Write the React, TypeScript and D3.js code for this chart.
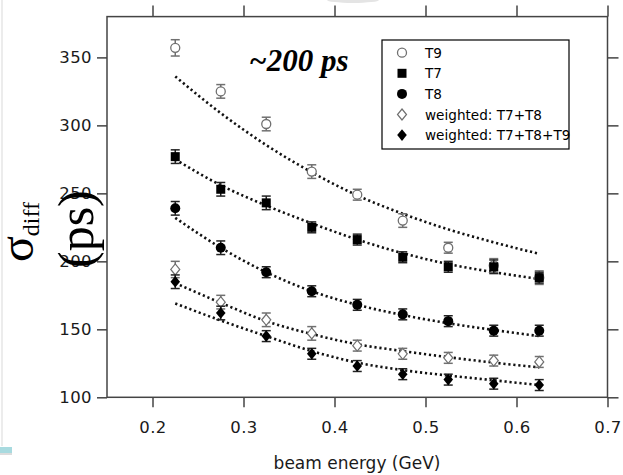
import { useEffect, useRef } from 'react';
import * as d3 from 'd3';

// beam energy bins (GeV)
const energies = [0.225, 0.275, 0.325, 0.375, 0.425, 0.475, 0.525, 0.575, 0.625];

// sigma_diff per telescope / combination (ps)
const t9 = [357, 325, 301, 266, 249, 230, 210, 197, 188];
const t9Err = [6, 5, 5, 5, 4, 5, 4, 5, 5];
const t7 = [277, 253, 243, 225, 216, 203, 196, 196, 188];
const t7Err = [5, 5, 5, 4, 4, 4, 4, 5, 4];
const t8 = [239, 210, 192, 178, 168, 161, 156, 149, 149];
const t8Err = [5, 5, 4, 4, 4, 4, 4, 4, 4];
const w78 = [194, 170, 157, 147, 138, 132, 129, 127, 126];
const w78Err = [6, 5, 5, 5, 4, 4, 4, 4, 4];
const w789 = [185, 162, 145, 132, 123, 117, 113, 110, 109];
const w789Err = [5, 5, 4, 4, 4, 4, 4, 4, 4];

// dotted fit curves, sampled at the same energies
const fitT9 = [336, 309, 285.5, 265.5, 248.5, 235, 223.5, 214, 205.5];
const fitT7 = [275, 256, 241, 228, 216, 206, 198, 192, 187];
const fitT8 = [232, 210, 192, 178, 168, 160.5, 154.5, 149.5, 145];
const fitW78 = [184, 169.5, 156, 146.5, 139, 134, 129.5, 125.5, 122];
const fitW789 = [169, 156.5, 145, 134, 125.5, 120, 116, 112.5, 109];

const xTicks = [0.2, 0.3, 0.4, 0.5, 0.6, 0.7];
const yTicks = [100, 150, 200, 250, 300, 350];

const legendLabels = ['T9', 'T7', 'T8', 'weighted: T7+T8', 'weighted: T7+T8+T9'];

const GRAY = '#707070';
const FONT = '"DejaVu Sans", Verdana, sans-serif';
const SERIF = '"Liberation Serif", "Times New Roman", serif';

export default function App() {
  const svgRef = useRef<SVGSVGElement>(null);

  useEffect(() => {
    const svg = d3.select(svgRef.current);
    svg.selectAll('*').remove();

    const left = 107, right = 607.5, top = 16.6, bottom = 397.3;
    const x = d3.scaleLinear().domain([0.15, 0.7]).range([left, right]);
    const y = d3.scaleLinear().domain([100, 380]).range([bottom, top]);

    // page decorations
    svg.append('line').attr('x1', 2).attr('x2', 2).attr('y1', 0).attr('y2', 446)
      .attr('stroke', '#ececec').attr('stroke-width', 2);
    svg.append('rect').attr('x', 0).attr('y', 452).attr('width', 12).attr('height', 3).attr('fill', '#dcdcdc');
    svg.append('rect').attr('x', 0).attr('y', 447).attr('width', 12).attr('height', 6).attr('fill', '#a8dadf');
    svg.append('ellipse').attr('cx', 353).attr('cy', 0).attr('rx', 26).attr('ry', 3).attr('fill', '#e4e4e4');

    // axes
    const axisColor = '#444';
    const styleAxis = (g: any) => {
      g.select('.domain').remove();
      g.selectAll('.tick line').attr('stroke', axisColor).attr('stroke-width', 1.5);
      g.selectAll('.tick text').attr('fill', '#1a1a1a').style('font-family', FONT)
        .style('font-size', '16.5px').style('letter-spacing', '0.4px');
    };
    svg.append('g').attr('transform', `translate(0,${bottom})`)
      .call(d3.axisBottom(x).tickValues(xTicks).tickSize(10).tickPadding(14).tickFormat(d3.format('.1f')))
      .call(styleAxis);
    svg.append('g').attr('transform', `translate(0,${top})`)
      .call(d3.axisTop(x).tickValues(xTicks).tickSize(11).tickFormat(() => ''))
      .call(styleAxis);
    svg.append('g').attr('transform', `translate(${left},0)`)
      .call(d3.axisLeft(y).tickValues(yTicks).tickSize(10).tickPadding(5))
      .call(styleAxis);
    svg.append('g').attr('transform', `translate(${right},0)`)
      .call(d3.axisRight(y).tickValues(yTicks).tickSize(11).tickFormat(() => ''))
      .call(styleAxis);
    svg.append('rect').attr('x', left).attr('y', top).attr('width', right - left).attr('height', bottom - top)
      .attr('fill', 'none').attr('stroke', axisColor).attr('stroke-width', 1.5);

    // dotted fits
    const line = d3.line<number>().x((_, i) => x(energies[i])).y(d => y(d)).curve(d3.curveMonotoneX);
    [fitT9, fitT7, fitT8, fitW78, fitW789].forEach(f => {
      svg.append('path').attr('d', line(f)).attr('fill', 'none').attr('stroke', '#111')
        .attr('stroke-width', 2.6).attr('stroke-dasharray', '2.2,2.8');
    });

    const diamond = (hw: number, hh: number) => `M0,${-hh}L${hw},0L0,${hh}L${-hw},0Z`;
    const drawMarker = (g: any, kind: string) => {
      if (kind === 'openCircle') g.append('circle').attr('r', 4.5).attr('fill', 'white').attr('stroke', GRAY).attr('stroke-width', 1.3);
      if (kind === 'square') g.append('rect').attr('x', -4.5).attr('y', -4.5).attr('width', 9).attr('height', 9).attr('fill', '#000');
      if (kind === 'circle') g.append('circle').attr('r', 5).attr('fill', '#000');
      if (kind === 'openDiamond') g.append('path').attr('d', diamond(4.5, 5.5)).attr('fill', 'white').attr('stroke', GRAY).attr('stroke-width', 1.2);
      if (kind === 'diamond') g.append('path').attr('d', diamond(4.8, 5.8)).attr('fill', '#000');
    };

    const series = [
      { vals: t9, err: t9Err, kind: 'openCircle', color: GRAY },
      { vals: t7, err: t7Err, kind: 'square', color: '#222' },
      { vals: t8, err: t8Err, kind: 'circle', color: '#222' },
      { vals: w78, err: w78Err, kind: 'openDiamond', color: GRAY },
      { vals: w789, err: w789Err, kind: 'diamond', color: '#222' },
    ];

    series.forEach(s => {
      const g = svg.append('g');
      s.vals.forEach((v, i) => {
        const px = x(energies[i]);
        const y0 = y(v - s.err[i]), y1 = y(v + s.err[i]);
        const eb = g.append('g').attr('stroke', s.color).attr('stroke-width', 1.5);
        eb.append('line').attr('x1', px).attr('x2', px).attr('y1', y0).attr('y2', y1);
        eb.append('line').attr('x1', px - 4.5).attr('x2', px + 4.5).attr('y1', y0).attr('y2', y0);
        eb.append('line').attr('x1', px - 4.5).attr('x2', px + 4.5).attr('y1', y1).attr('y2', y1);
        drawMarker(g.append('g').attr('transform', `translate(${px},${y(v)})`), s.kind);
      });
    });

    // legend
    const lg = svg.append('g');
    lg.append('rect').attr('x', 382).attr('y', 40).attr('width', 187).attr('height', 109)
      .attr('fill', 'white').attr('stroke', '#000').attr('stroke-width', 1.2);
    legendLabels.forEach((label, i) => {
      const ly = 52.7 + i * 20.6;
      drawMarker(lg.append('g').attr('transform', `translate(402,${ly})`), series[i].kind);
      lg.append('text').attr('x', 425).attr('y', ly).attr('dominant-baseline', 'central')
        .style('font-family', FONT).style('font-size', '13.6px').attr('fill', '#000').text(label);
    });

    // annotation
    svg.append('text').attr('x', 249).attr('y', 71)
      .style('font-family', SERIF)
      .style('font-size', '31px').style('font-weight', 'bold').style('font-style', 'italic')
      .text('~200 ps');

    // axis titles
    svg.append('text').attr('x', 357).attr('y', 469).attr('text-anchor', 'middle')
      .style('font-family', FONT).style('font-size', '17px').attr('fill', '#1a1a1a')
      .text('beam energy (GeV)');

    const yl = svg.append('text').attr('transform', 'translate(33,262) rotate(-90)')
      .style('font-family', SERIF).attr('fill', '#000');
    yl.append('tspan').style('font-size', '48px').text('σ');
    yl.append('tspan').style('font-size', '24px').attr('dy', 6).text('diff');
    svg.append('text').attr('transform', 'translate(93,268) rotate(-90)')
      .style('font-family', SERIF).style('font-size', '50px')
      .attr('fill', '#000').text('(ps)');
  }, []);

  return (
    <svg ref={svgRef} width={623} height={475}
      style={{ position: 'absolute', left: 0, top: 0, background: '#fff' }} />
  );
}
